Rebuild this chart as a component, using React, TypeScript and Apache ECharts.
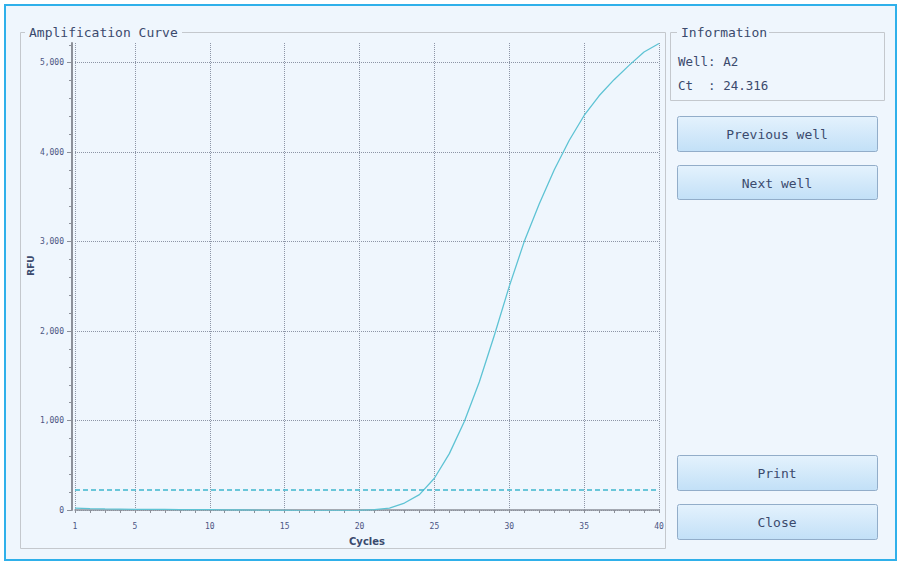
import React, { useEffect, useRef } from "react";
import * as echarts from "echarts";

const cycles = ["1","2","3","4","5","6","7","8","9","10","11","12","13","14","15","16","17","18","19","20","21","22","23","24","25","26","27","28","29","30","31","32","33","34","35","36","37","38","39","40"];
const rfu = [20,15,12,10,8,7,6,5,5,4,2,0,-2,-4,-5,-6,-7,-7,-6,-4,5,22,78,172,355,630,990,1430,1950,2500,3000,3420,3800,4130,4410,4630,4810,4970,5120,5215];
const labeledCycles = ["1","5","10","15","20","25","30","35","40"];
const yTickValues = [0,1000,2000,3000,4000,5000];
const threshold = 225;
const wellName = "A2";
const ctValue = "24.316";

const MONO = "'DejaVu Sans Mono', 'Liberation Mono', monospace";
const BG = "#eff6fd";
const TXT = "#3b4a6d";
const AX = "#8c9099";
const GRID = "#8d95a6";

function button(label: string, x: number, y: number, w: number, h: number) {
  return {
    type: "group",
    children: [
      {
        type: "rect",
        shape: { x: x + 0.5, y: y + 0.5, width: w, height: h, r: 2 },
        style: {
          fill: new echarts.graphic.LinearGradient(0, 0, 0, 1, [
            { offset: 0, color: "#e4f2fd" },
            { offset: 1, color: "#c2e0f7" },
          ]),
          stroke: "#92adc9",
          lineWidth: 1,
        },
      },
      {
        type: "text",
        x: x + w / 2,
        y: y + h / 2 + 1,
        style: { text: label, font: `13px ${MONO}`, fill: TXT, align: "center", verticalAlign: "middle" },
      },
    ],
  };
}

export default function App() {
  const ref = useRef<HTMLDivElement>(null);
  useEffect(() => {
    document.body.style.margin = "0";
    const chart = echarts.init(ref.current!, undefined, { renderer: "svg" });
    const isLabeled = (_i: number, v: string) => labeledCycles.includes(String(v));
    chart.setOption({
      animation: false,
      graphic: [
        { type: "rect", z: -10, shape: { x: 5, y: 5, width: 891, height: 555 }, style: { fill: BG, stroke: "#2fb0ea", lineWidth: 2 } },
        { type: "rect", z: -9, shape: { x: 20.5, y: 32.5, width: 645, height: 516 }, style: { fill: "none", stroke: "#c4c8cd", lineWidth: 1 } },
        { type: "rect", z: -8, shape: { x: 25, y: 24, width: 157, height: 16 }, style: { fill: BG } },
        { type: "text", x: 29, y: 32, style: { text: "Amplification Curve", font: `13px ${MONO}`, fill: TXT, verticalAlign: "middle" } },
        { type: "rect", z: -9, shape: { x: 670.5, y: 32.5, width: 214, height: 68 }, style: { fill: "none", stroke: "#c4c8cd", lineWidth: 1 } },
        { type: "rect", z: -8, shape: { x: 677, y: 24, width: 92, height: 16 }, style: { fill: BG } },
        { type: "text", x: 681, y: 32, style: { text: "Information", font: `13px ${MONO}`, fill: TXT, verticalAlign: "middle" } },
        { type: "text", x: 678, y: 61, style: { text: "Well: " + wellName, font: `12.5px ${MONO}`, fill: TXT, verticalAlign: "middle" } },
        { type: "text", x: 678, y: 85, style: { text: "Ct  : " + ctValue, font: `12.5px ${MONO}`, fill: TXT, verticalAlign: "middle" } },
        button("Previous well", 677, 116, 200, 35),
        button("Next well", 677, 165, 200, 34),
        button("Print", 677, 455, 200, 35),
        button("Close", 677, 504, 200, 35),
      ],
      grid: { left: 75, right: 240, top: 43, bottom: 52 },
      xAxis: {
        type: "category",
        data: cycles,
        boundaryGap: false,
        offset: 4,
        name: "Cycles",
        nameLocation: "middle",
        nameGap: 22,
        nameMoveOverlap: false,
        nameTextStyle: { fontFamily: "'DejaVu Sans', sans-serif", fontWeight: "bold", fontSize: 10, color: TXT },
        axisLine: { lineStyle: { color: AX, width: 1.5 } },
        axisTick: { interval: 0, length: 3, lineStyle: { color: AX } },
        axisLabel: { interval: isLabeled, fontFamily: MONO, fontSize: 8, color: "#4b5482", margin: 8 },
        splitLine: { show: true, interval: isLabeled, lineStyle: { type: "dotted", color: GRID, width: 1 } },
      },
      yAxis: {
        type: "value",
        min: 0,
        max: 5220,
        interval: 1000,
        offset: 3,
        name: "RFU",
        nameLocation: "middle",
        nameGap: 37,
        nameMoveOverlap: false,
        nameTextStyle: { fontFamily: "'DejaVu Sans', sans-serif", fontWeight: "bold", fontSize: 9, color: TXT, padding: [0, 0, 0, 22] },
        axisLine: { show: true, lineStyle: { color: AX, width: 2 } },
        axisTick: { show: true, length: 5, customValues: yTickValues, lineStyle: { color: AX } },
        minorTick: { show: true, splitNumber: 5, length: 3, lineStyle: { color: AX } },
        axisLabel: {
          customValues: yTickValues,
          fontFamily: MONO,
          fontSize: 8,
          color: "#4b5482",
          margin: 8,
          formatter: (v: number) => v.toLocaleString("en-US"),
        },
        splitLine: { show: true, lineStyle: { type: "dotted", color: GRID, width: 1 } },
      },
      series: [
        {
          type: "line",
          data: rfu,
          symbol: "none",
          lineStyle: { color: "#5ec3d4", width: 1.3 },
          markLine: {
            silent: true,
            symbol: "none",
            label: { show: false },
            lineStyle: { type: [5, 3], color: "#3fb6cd", width: 1.6 },
            data: [{ yAxis: threshold }],
          },
        },
      ],
    });
    return () => chart.dispose();
  }, []);
  return <div ref={ref} style={{ position: "fixed", left: 0, top: 0, width: 899, height: 562, background: "#ffffff" }} />;
}
